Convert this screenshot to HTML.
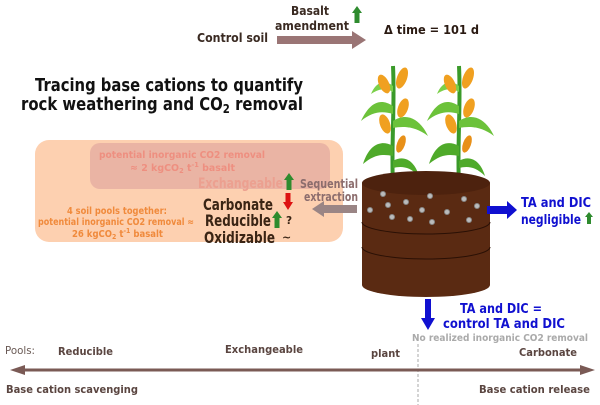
<!DOCTYPE html>
<html><head><meta charset="utf-8"><style>
body{margin:0;background:#fff}
svg{display:block;font-family:"DejaVu Sans","Liberation Sans",sans-serif;font-weight:bold}
</style></head><body>
<svg width="600" height="405" viewBox="0 0 600 405">
<defs>
<g id="ga"><path d="M-2.5 0 V-10 H-5 L0 -17 L5 -10 H2.5 V0Z" fill="#2e8b2e"/></g>
<g id="plant">
<path d="M0 120 C-2 80 2 40 0 0" stroke="#3a9a2a" stroke-width="4" fill="none"/>
<path d="M0 40 C-15 30 -25 40 -32 55 C-20 45 -10 45 0 48Z" fill="#6cc23a"/>
<path d="M0 55 C15 45 28 55 35 70 C22 60 10 60 0 62Z" fill="#6cc23a"/>
<path d="M0 80 C-15 72 -25 82 -30 98 C-18 88 -10 88 0 90Z" fill="#4faa2a"/>
<path d="M0 95 C12 88 22 96 26 110 C16 100 8 100 0 102Z" fill="#4faa2a"/>
<path d="M0 20 C-10 12 -18 18 -22 28 C-14 22 -6 22 0 26Z" fill="#7bd04a"/>
<ellipse cx="-9" cy="18" rx="5" ry="10" transform="rotate(-25 -9 18)" fill="#f0a020"/>
<ellipse cx="9" cy="12" rx="5" ry="11" transform="rotate(20 9 12)" fill="#f0a020"/>
<ellipse cx="10" cy="42" rx="5" ry="10" transform="rotate(20 10 42)" fill="#f0a020"/>
<ellipse cx="-8" cy="58" rx="5" ry="10" transform="rotate(-20 -8 58)" fill="#f0a020"/>
<ellipse cx="8" cy="78" rx="4" ry="9" transform="rotate(20 8 78)" fill="#e89018"/>
</g>
</defs>
<!-- top -->
<text x="291" y="15" font-size="12.5" fill="#3a2a22" textLength="38" lengthAdjust="spacingAndGlyphs">Basalt</text>
<text x="275" y="30" font-size="12.5" fill="#3a2a22" textLength="74" lengthAdjust="spacingAndGlyphs">amendment</text>
<use href="#ga" x="357" y="23"/>
<text x="197" y="42" font-size="12.5" fill="#3a2a22" textLength="71" lengthAdjust="spacingAndGlyphs">Control soil</text>
<path d="M277 36 H352 V31 L366 40 L352 49 V44 H277Z" fill="#9a7575"/>
<text x="384" y="34" font-size="12.5" fill="#2a1a12" textLength="95" lengthAdjust="spacingAndGlyphs">Δ time = 101 d</text>
<text x="35" y="91" font-size="17.5" fill="#111" textLength="268" lengthAdjust="spacingAndGlyphs">Tracing base cations to quantify</text>
<text x="21" y="110" font-size="17.5" fill="#111" textLength="282" lengthAdjust="spacingAndGlyphs">rock weathering and CO<tspan font-size="12" dy="3">2</tspan><tspan dy="-3"> removal</tspan></text>
<!-- boxes -->
<rect x="35" y="140" width="308" height="102" rx="14" fill="#fdd0b0"/>
<rect x="90" y="143" width="240" height="46" rx="10" fill="#eab4a4"/>
<text x="99" y="158" font-size="10" fill="#ee8f80" textLength="166" lengthAdjust="spacingAndGlyphs">potential inorganic CO2 removal</text>
<text x="130" y="171" font-size="10" fill="#ee8f80" textLength="105" lengthAdjust="spacingAndGlyphs">≈ 2 kgCO<tspan font-size="7" dy="2">2</tspan><tspan dy="-2"> t</tspan><tspan font-size="7" dy="-4">-1</tspan><tspan dy="4"> basalt</tspan></text>
<text x="198" y="188" font-size="14.5" fill="#eca090" textLength="85" lengthAdjust="spacingAndGlyphs">Exchangeable</text>
<use href="#ga" x="289" y="190"/>
<text x="67" y="214" font-size="9.5" fill="#f08a3c" textLength="100" lengthAdjust="spacingAndGlyphs">4 soil pools together:</text>
<text x="38" y="225" font-size="9.5" fill="#f08a3c" textLength="156" lengthAdjust="spacingAndGlyphs">potential inorganic CO2 removal ≈</text>
<text x="72" y="237" font-size="9.5" fill="#f08a3c" textLength="91" lengthAdjust="spacingAndGlyphs">26 kgCO<tspan font-size="7" dy="2">2</tspan><tspan dy="-2"> t</tspan><tspan font-size="7" dy="-4">-1</tspan><tspan dy="4"> basalt</tspan></text>
<text x="203" y="210" font-size="16" fill="#3a2414" textLength="70" lengthAdjust="spacingAndGlyphs">Carbonate</text>
<path d="M285.5 193 V202 H283 L288 210 L293 202 H290.5 V193Z" fill="#dd1111"/>
<text x="205" y="226" font-size="16" fill="#3a2414" textLength="66" lengthAdjust="spacingAndGlyphs">Reducible</text>
<use href="#ga" x="277" y="228"/>
<text x="286" y="224" font-size="10.5" fill="#3a2414">?</text>
<text x="204" y="243" font-size="16" fill="#3a2414" textLength="71" lengthAdjust="spacingAndGlyphs">Oxidizable</text>
<text x="282" y="241" font-size="11" fill="#3a2414">~</text>
<text x="300" y="188" font-size="12" fill="#8c6d6d" textLength="58" lengthAdjust="spacingAndGlyphs">Sequential</text>
<text x="304" y="201" font-size="12" fill="#8c6d6d" textLength="54" lengthAdjust="spacingAndGlyphs">extraction</text>
<path d="M357 205 H324 V201 L312 209 L324 217 V213 H357Z" fill="#9a8585"/>
<!-- plants -->
<use href="#plant" x="393" y="66"/>
<use href="#plant" x="459" y="66"/>
<!-- soil -->
<path d="M362 183 V285 A64 12 0 0 0 490 285 V183Z" fill="#5a2a12"/>
<ellipse cx="426" cy="183" rx="64" ry="12" fill="#4d220e"/>
<path d="M362 222 A64 12 0 0 0 490 222 M362 247 A64 12 0 0 0 490 247" stroke="#2a1005" fill="none"/>
<g fill="#bbb" stroke="#888" stroke-width="1">
<circle cx="383" cy="194" r="2.5"/><circle cx="430" cy="196" r="2.5"/><circle cx="464" cy="199" r="2.5"/><circle cx="388" cy="205" r="2.5"/><circle cx="406" cy="202" r="2.5"/><circle cx="370" cy="210" r="2.5"/><circle cx="422" cy="210" r="2.5"/><circle cx="447" cy="212" r="2.5"/><circle cx="477" cy="206" r="2.5"/><circle cx="392" cy="217" r="2.5"/><circle cx="410" cy="219" r="2.5"/><circle cx="432" cy="222" r="2.5"/><circle cx="469" cy="220" r="2.5"/></g>
<!-- blue -->
<path d="M487 206 H507 V201 L517 210 L507 219 V214 H487Z" fill="#1010d0"/>
<text x="521" y="207" font-size="13" fill="#1010d0" textLength="70" lengthAdjust="spacingAndGlyphs">TA and DIC</text>
<text x="521" y="224" font-size="13" fill="#1010d0" textLength="60" lengthAdjust="spacingAndGlyphs">negligible</text>
<path d="M587 224 V217 H585 L589 212 L593 217 H591 V224Z" fill="#2e8b2e"/>
<path d="M425 299 V318 H421 L428 330 L435 318 H431 V299Z" fill="#1010d0"/>
<text x="460" y="313" font-size="13" fill="#1010d0" textLength="82" lengthAdjust="spacingAndGlyphs">TA and DIC =</text>
<text x="443" y="328" font-size="13" fill="#1010d0" textLength="122" lengthAdjust="spacingAndGlyphs">control TA  and DIC</text>
<text x="412" y="341" font-size="10" fill="#aaa" textLength="176" lengthAdjust="spacingAndGlyphs">No realized inorganic CO2 removal</text>
<!-- bottom -->
<text x="5" y="354" font-size="10.5" font-weight="normal" fill="#6a5a55" textLength="30" lengthAdjust="spacingAndGlyphs">Pools:</text>
<text x="58" y="355" font-size="11" fill="#5a4540" textLength="55" lengthAdjust="spacingAndGlyphs">Reducible</text>
<text x="225" y="353" font-size="11" fill="#5a4540" textLength="78" lengthAdjust="spacingAndGlyphs">Exchangeable</text>
<text x="371" y="357" font-size="11" fill="#5a4540" textLength="29" lengthAdjust="spacingAndGlyphs">plant</text>
<text x="519" y="356" font-size="11" fill="#5a4540" textLength="58" lengthAdjust="spacingAndGlyphs">Carbonate</text>
<line x1="418" y1="344" x2="418" y2="405" stroke="#aaa" stroke-dasharray="3 2"/>
<path d="M20 370 H585" stroke="#7a5a55" stroke-width="3"/>
<path d="M10 370 L25 365 L25 375Z M595 370 L580 365 L580 375Z" fill="#7a5a55"/>
<text x="6" y="393" font-size="11" fill="#5a4540" textLength="132" lengthAdjust="spacingAndGlyphs">Base cation scavenging</text>
<text x="479" y="393" font-size="11" fill="#5a4540" textLength="111" lengthAdjust="spacingAndGlyphs">Base cation release</text>
</svg>
</body></html>
